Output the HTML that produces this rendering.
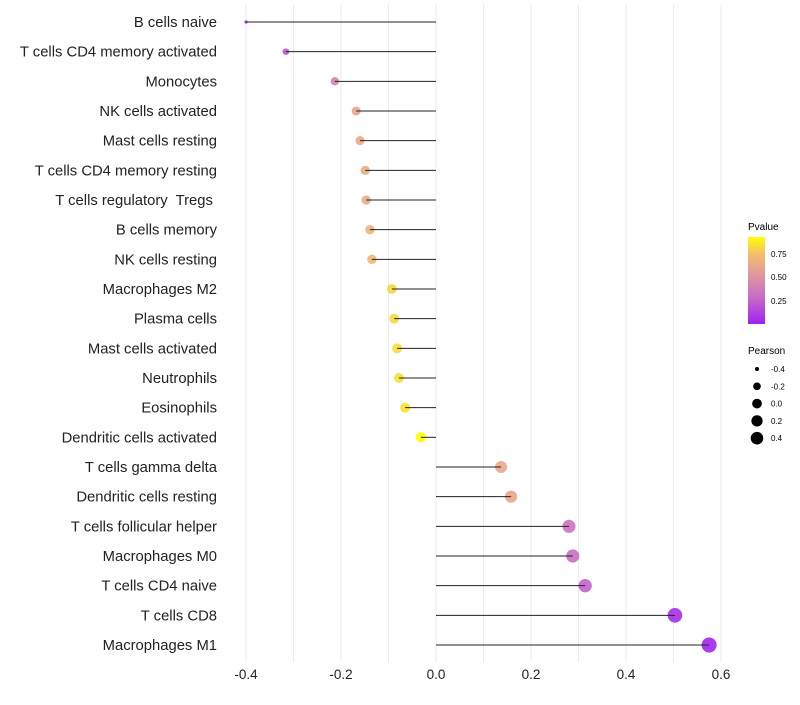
<!DOCTYPE html>
<html><head><meta charset="utf-8"><style>
body{margin:0;background:#fff;font-family:"Liberation Sans",sans-serif}
text{white-space:pre}
</style></head><body>
<svg id="chart" width="800" height="700" xmlns="http://www.w3.org/2000/svg" font-family="Liberation Sans, sans-serif">
<g id="grid"></g>
<g id="dots"></g>
<g id="marks"></g>
<g id="ylabels"></g>
<g id="xlabels"></g>
<g>
<defs><linearGradient id="pg" x1="0" y1="1" x2="0" y2="0">
<stop offset="0" stop-color="#a020f0"/><stop offset="0.3" stop-color="#c76bc8"/><stop offset="0.55" stop-color="#df94a0"/><stop offset="0.8" stop-color="#f4bd6e"/><stop offset="1" stop-color="#ffff00"/></linearGradient></defs>
<text x="748" y="230" font-size="10">Pvalue</text>
<rect x="748" y="237" width="17" height="87" fill="url(#pg)"/>
<text x="771" y="257" font-size="8">0.75</text>
<text x="771" y="280" font-size="8">0.50</text>
<text x="771" y="304" font-size="8">0.25</text>
</g>
<g id="sizeleg">
<text x="748" y="354" font-size="10">Pearson</text>
</g>
</svg>
<script>
const categories=["B cells naive","T cells CD4 memory activated","Monocytes","NK cells activated","Mast cells resting","T cells CD4 memory resting","T cells regulatory  Tregs ","B cells memory","NK cells resting","Macrophages M2","Plasma cells","Mast cells activated","Neutrophils","Eosinophils","Dendritic cells activated","T cells gamma delta","Dendritic cells resting","T cells follicular helper","Macrophages M0","T cells CD4 naive","T cells CD8","Macrophages M1"];
const pearson=[-0.40,-0.316,-0.213,-0.168,-0.16,-0.149,-0.147,-0.139,-0.135,-0.093,-0.088,-0.082,-0.078,-0.065,-0.032,0.137,0.158,0.28,0.288,0.314,0.503,0.575];
const pvalue=[0.03,0.2,0.4,0.6,0.62,0.65,0.65,0.68,0.7,0.82,0.82,0.83,0.84,0.86,0.93,0.62,0.6,0.33,0.3,0.25,0.05,0.02];
const xTicks=[-0.4,-0.2,0.0,0.2,0.4,0.6];
const sizeLegend=[-0.4,-0.2,0.0,0.2,0.4];
const NS="http://www.w3.org/2000/svg";
const x=v=>436+v*475;
const y=i=>22+i*(623/21);
const r=v=>1.6+6*Math.sqrt(Math.max(0,v+0.4));
const stops=[[0,[160,32,240]],[0.3,[199,107,200]],[0.55,[223,148,160]],[0.8,[244,189,110]],[1,[255,255,0]]];
function col(p){const t=Math.min(1,Math.max(0,p/0.93));for(let k=1;k<stops.length;k++){if(t<=stops[k][0]){const a=stops[k-1],b=stops[k],f=(t-a[0])/(b[0]-a[0]);const c=a[1].map((v,j)=>Math.round(v+(b[1][j]-v)*f));return `rgb(${c})`;}}return "rgb(255,255,0)";}
function el(t,a,p){const e=document.createElementNS(NS,t);for(const k in a)e.setAttribute(k,a[k]);p.appendChild(e);return e;}
const grid=document.getElementById('grid');
for(let v=-0.4;v<=0.601;v+=0.1){const g=el('line',{x1:x(v),x2:x(v),y1:5,y2:662,stroke:'#ebebeb','stroke-width':1},grid);

}
const xl=document.getElementById('xlabels');
xTicks.forEach(v=>{const t=el('text',{x:x(v),y:679,'font-size':13.5,'text-anchor':'middle',fill:'#222'},xl);t.textContent=v.toFixed(1);

});
const m=document.getElementById('marks'),dg=document.getElementById('dots'),yl=document.getElementById('ylabels');
categories.forEach((c,i)=>{
const d=el('circle',{cx:x(pearson[i]),cy:y(i),r:r(pearson[i]),fill:col(pvalue[i]),'fill-opacity':0.9},dg);


const ln=el('line',{x1:x(0),x2:x(pearson[i]),y1:y(i),y2:y(i),stroke:'#222','stroke-width':1},m);


const t=el('text',{x:217,y:y(i)+5,'font-size':14.8,'text-anchor':'end',fill:'#222'},yl);t.textContent=c;


});
const sl=document.getElementById('sizeleg');
sizeLegend.forEach((v,i)=>{const cy=369+i*17.3;
const c=el('circle',{cx:757,cy:cy,r:Math.min(6.3,Math.max(2,r(v)*0.9)),fill:'#000'},sl);


const t=el('text',{x:771,y:cy+3,'font-size':8},sl);t.textContent=v.toFixed(1);

});
</script>
</body></html>
